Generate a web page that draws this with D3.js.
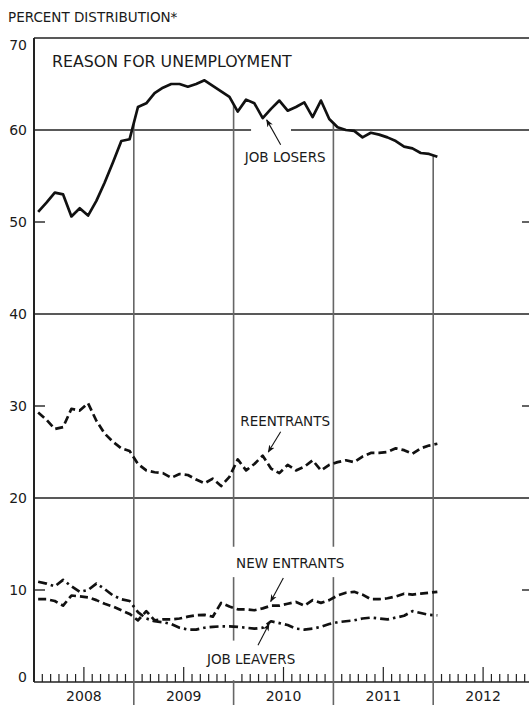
<!DOCTYPE html>
<html>
<head>
<meta charset="utf-8">
<script src="https://cdn.jsdelivr.net/npm/d3@7"></script>
<style>
  html, body { margin: 0; padding: 0; background: #fff; }
  svg { display: block; }
  text { font-family: "DejaVu Sans", "Noto Sans", sans-serif; fill: #1a1a1a; }
</style>
</head>
<body>
<svg id="chart" width="529" height="705"></svg>
<script>
// ---- data (monthly, Jan 2008 .. Jan 2012) ----
const years = ["2008", "2009", "2010", "2011", "2012"];
const yTicks = [0, 10, 20, 30, 40, 50, 60, 70];
const jobLosers = [51.1, 52.1, 53.2, 53.0, 50.6, 51.5, 50.7, 52.3, 54.3, 56.5, 58.8, 59.0,
  62.5, 62.9, 64.0, 64.6, 65.0, 65.0, 64.7, 65.0, 65.4, 64.8, 64.2, 63.6,
  62.0, 63.3, 62.9, 61.3, 62.3, 63.2, 62.1, 62.5, 63.0, 61.4, 63.2, 61.2,
  60.3, 60.0, 59.9, 59.2, 59.7, 59.5, 59.2, 58.8, 58.2, 58.0, 57.5, 57.4,
  57.1];
const reentrants = [29.3, 28.5, 27.5, 27.7, 29.7, 29.5, 30.3, 28.4, 27.0, 26.1, 25.4, 25.1,
  23.7, 23.0, 22.8, 22.7, 22.2, 22.6, 22.5, 22.0, 21.6, 22.1, 21.3, 22.3,
  24.2, 23.0, 23.7, 24.6, 23.2, 22.7, 23.6, 23.0, 23.4, 24.1, 23.0, 23.6,
  23.9, 24.1, 23.9, 24.5, 24.9, 24.9, 25.0, 25.4, 25.2, 24.8, 25.4, 25.7,
  25.9];
const newEntrants = [9.0, 9.0, 8.8, 8.3, 9.4, 9.3, 9.2, 8.9, 8.5, 8.2, 7.8, 7.4,
  6.7, 7.7, 6.7, 6.8, 6.8, 6.9, 7.1, 7.25, 7.3, 7.1, 8.6, 8.2,
  7.9, 7.9, 7.8, 8.0, 8.3, 8.3, 8.5, 8.7, 8.3, 8.9, 8.6, 8.9,
  9.4, 9.7, 9.8, 9.5, 9.0, 9.0, 9.1, 9.3, 9.6, 9.5, 9.6, 9.7,
  9.8];
const jobLeavers = [10.9, 10.7, 10.4, 11.1, 10.4, 9.8, 10.0, 10.7, 10.1, 9.4, 9.0, 8.8,
  7.6, 6.9, 6.6, 6.5, 6.3, 5.9, 5.7, 5.7, 5.9, 6.0, 6.05, 6.05,
  6.0, 5.9, 5.8, 5.9, 6.6, 6.4, 6.2, 5.8, 5.7, 5.8, 6.0, 6.3,
  6.5, 6.6, 6.7, 6.9, 7.0, 6.9, 6.8, 7.0, 7.2, 7.7, 7.5, 7.3,
  7.25];

// annotation anchors in data units: [month, value]
const labels = [
  { text: "JOB LOSERS", at: [30.2, 57.0], tail: [29.66, 58.4], tip: [27.98, 61.1] },
  { text: "REENTRANTS", at: [30.2, 28.4], tail: [29.66, 27.2], tip: [28.17, 25.0] },
  { text: "NEW ENTRANTS", at: [30.8, 12.9], tail: [29.98, 11.3], tip: [28.46, 8.75] },
  { text: "JOB LEAVERS", at: [26.1, 2.5], tail: [26.93, 4.0], tip: [28.26, 6.3] }
];

// ---- layout ----
const W = 529, H = 705;
const mLeft = 34, mRight = 533, mTop = 38, mBottom = 682;
const x = d3.scaleLinear().domain([0, 60]).range([mLeft, mRight]);
const y = d3.scaleLinear().domain([0, 70]).range([mBottom, mTop]);

const svg = d3.select("#chart");

// header texts
svg.append("text").attr("x", 8).attr("y", 22)
  .style("font-size", "13.5px")
  .text("PERCENT DISTRIBUTION*");
svg.append("text").attr("x", 52).attr("y", 67)
  .style("font-size", "15.8px")
  .text("REASON FOR UNEMPLOYMENT");

// frame: left axis, top line, bottom axis
svg.append("line").attr("x1", x(0)).attr("x2", x(0)).attr("y1", y(70)).attr("y2", y(0))
  .attr("stroke", "#222").attr("stroke-width", 2);
svg.append("line").attr("x1", x(0)).attr("x2", W).attr("y1", y(70)).attr("y2", y(70))
  .attr("stroke", "#222").attr("stroke-width", 1.6);
svg.append("line").attr("x1", x(0)).attr("x2", W).attr("y1", y(0)).attr("y2", y(0))
  .attr("stroke", "#222").attr("stroke-width", 1.6);

// horizontal grid lines (20, 40, 60 full; 10, 30, 50 short ticks both sides)
const gapMonths = [26.1, 30.9];
[20, 40].forEach(v => {
  svg.append("line").attr("x1", x(0)).attr("x2", W).attr("y1", y(v)).attr("y2", y(v))
    .attr("stroke", "#222").attr("stroke-width", 1.4);
});
svg.append("line").attr("x1", x(0)).attr("x2", x(gapMonths[0])).attr("y1", y(60)).attr("y2", y(60))
  .attr("stroke", "#222").attr("stroke-width", 1.4);
svg.append("line").attr("x1", x(gapMonths[1])).attr("x2", W).attr("y1", y(60)).attr("y2", y(60))
  .attr("stroke", "#222").attr("stroke-width", 1.4);
[10, 30, 50].forEach(v => {
  svg.append("line").attr("x1", x(0)).attr("x2", x(0) + 11).attr("y1", y(v)).attr("y2", y(v))
    .attr("stroke", "#222").attr("stroke-width", 1.4);
  svg.append("line").attr("x1", W - 7).attr("x2", W).attr("y1", y(v)).attr("y2", y(v))
    .attr("stroke", "#222").attr("stroke-width", 1.4);
});

// y tick labels (end labels nudged inside the frame as in the original)
svg.selectAll(".ylab").data(yTicks).enter().append("text")
  .attr("class", "ylab")
  .attr("x", 27).attr("y", d => y(d) + (d === 70 ? 7 : d === 0 ? -5 : 0)).attr("dy", "0.36em")
  .attr("text-anchor", "end").style("font-size", "14px")
  .text(d => d);

// bottom month ticks
const monthTicks = d3.range(0, 61).filter(m => m % 12 !== 0);
svg.selectAll(".mtick").data(monthTicks).enter().append("line")
  .attr("x1", d => x(d)).attr("x2", d => x(d))
  .attr("y1", y(0)).attr("y2", d => y(0) - (d % 12 === 6 ? 15 : 8))
  .attr("stroke", "#222").attr("stroke-width", 1.2);

// year labels
svg.selectAll(".yr").data(years).enter().append("text")
  .attr("x", (d, i) => x(i * 12 + 6)).attr("y", 701)
  .attr("text-anchor", "middle").style("font-size", "14px")
  .text(d => d);

// year boundary verticals, starting at the job losers curve
function interpLosers(m) {
  const t = m - 0.5;
  if (t <= 0) return jobLosers[0];
  if (t >= jobLosers.length - 1) return jobLosers[jobLosers.length - 1];
  const i = Math.floor(t), f = t - i;
  return jobLosers[i] * (1 - f) + jobLosers[i + 1] * f;
}
const boundaries = [12, 24, 36, 48];
const gaps = { 24: [[14.7, 11.4], [4.5, 0.2]], 36: [[14.7, 11.4]] };
boundaries.forEach(b => {
  let segs = [];
  let start = y(interpLosers(b));
  (gaps[b] || []).forEach(g => {
    segs.push([start, y(g[0])]);
    start = y(g[1]);
  });
  segs.push([start, H]);
  segs.forEach(s => {
    svg.append("line").attr("x1", x(b)).attr("x2", x(b)).attr("y1", s[0]).attr("y2", s[1])
      .attr("stroke", "#666").attr("stroke-width", 1.6);
  });
});

// series
const line = d3.line().x((d, i) => x(i + 0.5)).y(d => y(d)).curve(d3.curveLinear);
const series = [
  { data: jobLosers, dash: null, w: 2.7 },
  { data: reentrants, dash: "8,4", w: 2.7 },
  { data: newEntrants, dash: "8,4", w: 2.7 },
  { data: jobLeavers, dash: "9,4,2.5,4", w: 2.7 }
];
series.forEach(s => {
  svg.append("path").datum(s.data).attr("d", line)
    .attr("fill", "none").attr("stroke", "#111").attr("stroke-width", s.w)
    .attr("stroke-linejoin", "round")
    .attr("stroke-dasharray", s.dash);
});

// arrow marker
svg.append("defs").append("marker")
  .attr("id", "arr").attr("viewBox", "0 0 10 10").attr("refX", 9).attr("refY", 5)
  .attr("markerWidth", 7).attr("markerHeight", 7).attr("orient", "auto")
  .append("path").attr("d", "M0,1 L10,5 L0,9 L3,5 Z").attr("fill", "#111");

labels.forEach(l => {
  svg.append("line")
    .attr("x1", x(l.tail[0])).attr("y1", y(l.tail[1]))
    .attr("x2", x(l.tip[0])).attr("y2", y(l.tip[1]))
    .attr("stroke", "#111").attr("stroke-width", 1.1)
    .attr("marker-end", "url(#arr)");
  svg.append("text").attr("x", x(l.at[0])).attr("y", y(l.at[1])).attr("dy", "0.36em")
    .attr("text-anchor", "middle").style("font-size", "13.5px")
    .text(l.text);
});
</script>
</body>
</html>
